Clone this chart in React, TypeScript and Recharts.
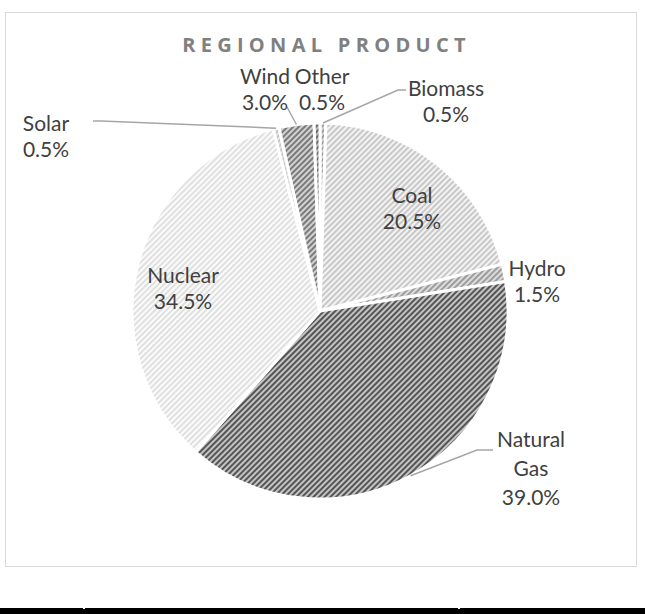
import React from 'react';
import { PieChart, Pie, Cell } from 'recharts';

const categories = ['Biomass', 'Coal', 'Hydro', 'Natural Gas', 'Nuclear', 'Solar', 'Wind', 'Other'];
const shares = [0.5, 20.5, 1.5, 39.0, 34.5, 0.5, 3.0, 0.5];
const title = 'REGIONAL PRODUCT';

// hatch fills: background, stripe colour
const patternBg = ['#d6d6d6', '#f3f3f3', '#dcdcdc', '#c4c4c4', '#fbfbfb', '#e4e4e4', '#d2d2d2', '#b8b8b8'];
const patternFg = ['#9a9a9a', '#c8c8c8', '#9c9c9c', '#555555', '#e0e0e0', '#c4c4c4', '#7a7a7a', '#6a6a6a'];

// label centre offsets from the pie centre
const labelOffsets: [number, number][] = [
  [126, -211], [92, -104], [217, -31], [211, 156], [-137, -24], [-274, -176], [-55, -223], [2, -223],
];
// leader line points relative to label centre (null = no leader)
const leaderPoints: ([number, number][] | null)[] = [
  [[-40, -10], [-48, -10]],
  null,
  null,
  [[-38, -17], [-54, -17]],
  null,
  [[47, -14], [55, -14]],
  [[22, 19]],
  null,
];

const data = categories.map((name, i) => ({ name, value: shares[i] }));

const RAD = Math.PI / 180;
const FONT = 'Lato, "Open Sans", sans-serif';
const TITLE_FONT = '"Open Sans", "Noto Sans", sans-serif';

const renderLabel = (props: any) => {
  const { cx, cy, midAngle, outerRadius, index, name, value } = props;
  const [dx, dy] = labelOffsets[index];
  const lx = cx + dx;
  const ly = cy + dy;
  const words = String(name).split(' ');
  const lines = [...words, `${Number(value).toFixed(1)}%`];
  const spacing = lines.length > 2 ? 29 : 26;
  const top = ly - ((lines.length - 1) * spacing) / 2;
  const lead = leaderPoints[index];
  let poly: string | null = null;
  if (lead) {
    const ex = cx + outerRadius * Math.cos(-midAngle * RAD);
    const ey = cy + outerRadius * Math.sin(-midAngle * RAD);
    const pts = lead.map(([px, py]) => `${lx + px},${ly + py}`);
    pts.push(`${ex},${ey}`);
    poly = pts.join(' ');
  }
  return (
    <g key={`lbl-${index}`}>
      {poly && <polyline points={poly} fill="none" stroke="#a6a6a6" strokeWidth={1.5} />}
      {lines.map((t, i) => (
        <text
          key={i}
          x={lx}
          y={top + i * spacing}
          textAnchor="middle"
          dominantBaseline="central"
          fill="#404040"
          fontFamily={FONT}
          fontSize={21}
        >
          {t}
        </text>
      ))}
    </g>
  );
};

export default function App() {
  return (
    <div style={{ position: 'absolute', left: 0, top: 0, width: 645, height: 614, background: '#fff', overflow: 'hidden' }}>
      <svg width={0} height={0} style={{ position: 'absolute' }}>
        <defs>
          {categories.map((c, i) => (
            <pattern
              key={c}
              id={`hatch-${i}`}
              patternUnits="userSpaceOnUse"
              width={4}
              height={4}
              patternTransform="rotate(45)"
            >
              <rect x={0} y={0} width={4} height={4} fill={patternBg[i]} />
              <rect x={0} y={0} width={2} height={4} fill={patternFg[i]} />
            </pattern>
          ))}
        </defs>
      </svg>
      <div
        style={{
          position: 'absolute', left: 5, top: 12, width: 630, height: 553,
          border: '1.5px solid #d9d9d9',
        }}
      />
      <div
        style={{
          position: 'absolute', left: 0, top: 31, width: 645, textAlign: 'center',
          fontFamily: TITLE_FONT, fontWeight: 700, fontSize: 20, letterSpacing: 5.3, color: '#808080',
          paddingLeft: 4,
        }}
      >
        {title}
      </div>
      <div style={{ position: 'absolute', left: 0, top: 0 }}>
        <PieChart width={645} height={614} margin={{ top: 0, right: 0, bottom: 0, left: 0 }}>
          <Pie
            data={data}
            dataKey="value"
            nameKey="name"
            cx={320}
            cy={311}
            outerRadius={188}
            startAngle={90}
            endAngle={-270}
            stroke="#ffffff"
            strokeWidth={3}
            label={renderLabel}
            labelLine={false}
            isAnimationActive={false}
          >
            {data.map((d, i) => (
              <Cell key={d.name} fill={`url(#hatch-${i})`} />
            ))}
          </Pie>
        </PieChart>
      </div>
      <div style={{ position: 'absolute', left: 0, top: 608, width: 645, height: 6, background: '#000' }} />
      <div style={{ position: 'absolute', left: 83, top: 608, width: 2, height: 1, background: '#fff' }} />
      <div style={{ position: 'absolute', left: 458, top: 608, width: 2, height: 1, background: '#fff' }} />
    </div>
  );
}
